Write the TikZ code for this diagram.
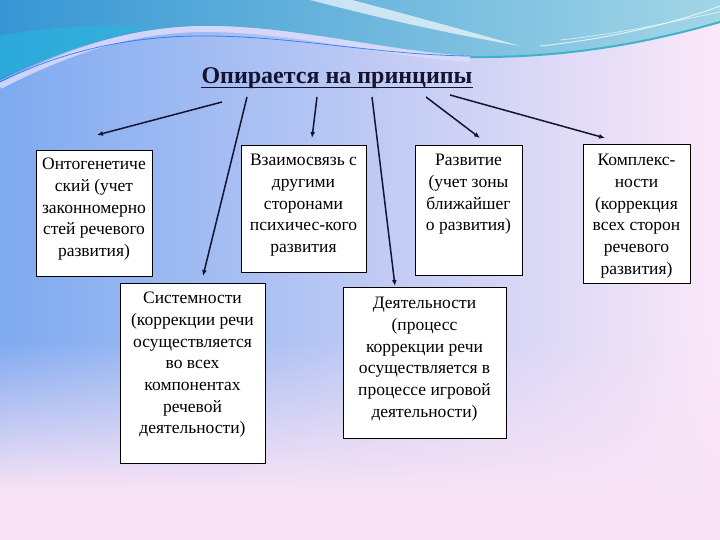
\documentclass[tikz,border=0pt]{standalone}
\usepackage{fontspec}
\setmainfont{Liberation Serif}
\usetikzlibrary{arrows.meta,fadings}
\definecolor{bgleft}{HTML}{7EAAF0}
\definecolor{bgmid}{HTML}{C4CAF4}
\definecolor{bgright}{HTML}{FBE8F8}
\definecolor{bgpink}{HTML}{F8E3F6}
\definecolor{bandl}{HTML}{3696D4}
\definecolor{bandr}{HTML}{A2D6E6}
\definecolor{bandcyan}{HTML}{22BDE0}
\definecolor{swoosh}{HTML}{DCDCFA}
\definecolor{teal}{HTML}{3CB4CC}
\definecolor{ink}{HTML}{141432}
\tikzfading[name=fadedown, top color=transparent!100, bottom color=transparent!0]
\tikzset{
  box/.style={draw=black, line width=0.9pt, fill=white, anchor=north west, inner sep=0pt},
  boxtext/.style={anchor=north, align=center, inner sep=0pt, font=\fontsize{17.5}{21.7}\selectfont},
  arr/.style={draw=ink, line width=1.5pt, -{Latex[length=6pt,width=5pt]}},
  titlestyle/.style={font=\fontsize{24}{28}\selectfont\bfseries, text=ink, inner sep=0pt, anchor=base}
}
\begin{document}
\begin{tikzpicture}[x=1pt,y=-1pt]
\useasboundingbox (0,0) rectangle (720,540);
% background
\shade[left color=bgleft, middle color=bgmid, right color=bgright] (0,0) rectangle (720,540);
\fill[bgpink, path fading=fadedown] (0,340) rectangle (720,490);
\fill[bgpink] (0,489) rectangle (720,540);
% top band
\shade[left color=bandl, right color=bandr]
  (0,0) -- (720,0) -- (720,22) .. controls (640,45) and (560,58) .. (480,57)
  .. controls (400,56) and (300,25) .. (205,26) .. controls (120,27) and (50,55) .. (0,80) -- cycle;
\fill[bandcyan, opacity=0.5] (0,36) .. controls (40,28) and (90,24) .. (150,27) .. controls (90,40) and (40,60) .. (0,78) -- cycle;
\draw[swoosh, line width=6pt, opacity=0.85] (0,86) .. controls (60,55) and (130,28) .. (210,29) .. controls (300,30) and (380,53) .. (470,59);
\draw[blue!60!cyan, line width=0.8pt, opacity=0.7] (0,82) .. controls (60,52) and (130,35) .. (210,36) .. controls (300,37) and (380,55) .. (470,56);
\draw[teal, line width=2pt] (470,57) .. controls (560,58) and (640,45) .. (720,22);
\fill[white, opacity=0.65] (310,0) .. controls (380,18) and (440,32) .. (520,46) .. controls (450,26) and (390,10) .. (352,0) -- cycle;
\draw[white, line width=1pt, opacity=0.7] (540,46) .. controls (600,40) and (670,25) .. (720,6);
\draw[white, line width=0.8pt, opacity=0.6] (560,40) .. controls (620,34) and (680,20) .. (720,12);
% title
\node[titlestyle] (title) at (337,84) {Опирается на принципы};
\draw[ink, line width=1.6pt] ([yshift=-3.5pt]title.base west) -- ([yshift=-3.5pt]title.base east);
% boxes
\node[box, minimum width=116pt, minimum height=126pt] (b1) at (36,150) {};
\node[box, minimum width=125pt, minimum height=127pt] (b2) at (241,145) {};
\node[box, minimum width=107pt, minimum height=130pt] (b3) at (415,145) {};
\node[box, minimum width=107pt, minimum height=139pt] (b4) at (583,144) {};
\node[box, minimum width=145pt, minimum height=180pt] (b5) at (120,283) {};
\node[box, minimum width=163pt, minimum height=151pt] (b6) at (343,287) {};
\node[boxtext] (t1) at (94,158) {Онтогенетиче\\ский (учет\\законномерно\\стей речевого\\развития)};
\node[boxtext] (t2) at (303.5,154) {Взаимосвязь с\\другими\\сторонами\\психичес-кого\\развития};
\node[boxtext] (t3) at (468.5,154) {Развитие\\(учет зоны\\ближайшег\\о развития)};
\node[boxtext] (t4) at (636.5,154) {Комплекс-\\ности\\(коррекция\\всех сторон\\речевого\\развития)};
\node[boxtext] (t5) at (192.5,292) {Системности\\(коррекции речи\\осуществляется\\во всех\\компонентах\\речевой\\деятельности)};
\node[boxtext] (t6) at (424.5,297) {Деятельности\\(процесс\\коррекции речи\\осуществляется в\\процессе игровой\\деятельности)};
% arrow ends
\coordinate (s1) at (222,102); \coordinate (e1) at (97,135);
\coordinate (s2) at (247,97);  \coordinate (e2) at (203,276);
\coordinate (s3) at (317,97);  \coordinate (e3) at (312,138);
\coordinate (s4) at (372,97);  \coordinate (e4) at (395,286);
\coordinate (s5) at (426,97);  \coordinate (e5) at (480,138);
\coordinate (s6) at (450,95);  \coordinate (e6) at (605,138);
\draw[arr] (s1) -- (e1);
\draw[arr] (s2) -- (e2);
\draw[arr] (s3) -- (e3);
\draw[arr] (s4) -- (e4);
\draw[arr] (s5) -- (e5);
\draw[arr] (s6) -- (e6);
\end{tikzpicture}
\end{document}
